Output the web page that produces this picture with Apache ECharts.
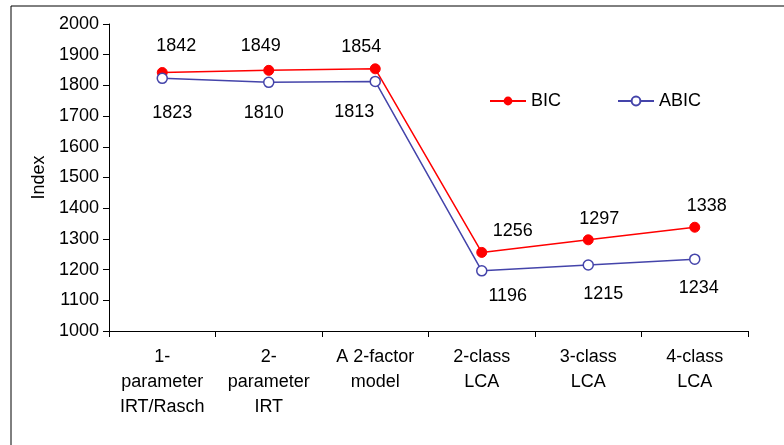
<!DOCTYPE html>
<html>
<head>
<meta charset="utf-8">
<script src="https://cdn.jsdelivr.net/npm/echarts@6/dist/echarts.min.js"></script>
<style>
  html, body { margin: 0; padding: 0; background: #fff; }
  #chart { width: 784px; height: 445px; }
</style>
</head>
<body>
<div id="chart"></div>
<script>
// categories on the x axis
var categories = ['1-\nparameter\nIRT/Rasch', '2-\nparameter\nIRT', 'A 2-factor\nmodel', '2-class\nLCA', '3-class\nLCA', '4-class\nLCA'];
// series values
var bicValues = [1842, 1849, 1854, 1256, 1297, 1338];
var abicValues = [1823, 1810, 1813, 1196, 1215, 1234];

// label nudges (px) so the numbers sit where they are in the original
var bicShift = [[14, -26], [-8, -24], [-14, -22], [31, -21], [11, -21], [12, -21]];
var abicShift = [[10, 35], [-5, 31], [-21, 31], [26, 25], [15, 29], [4, 29]];

var font = 'Liberation Sans, Arial, sans-serif';

function withLabels(values, shift) {
    var out = [];
    for (var i = 0; i < values.length; i++) {
        out.push({ value: values[i], label: { offset: shift[i] } });
    }
    return out;
}

var myChart = echarts.init(document.getElementById('chart'));
var option = {
    backgroundColor: '#fff',
    animation: false,
    textStyle: { fontFamily: font },
    graphic: [{
        type: 'rect',
        shape: { x: 11, y: 6, width: 800, height: 460 },
        style: { fill: 'none', stroke: '#000', lineWidth: 1 },
        silent: true
    }],
    grid: { left: 109, top: 24, right: 36, bottom: 114 },
    legend: {
        left: 484,
        top: 87,
        itemWidth: 36,
        itemHeight: 11,
        itemGap: 56,
        textStyle: { fontSize: 18, color: '#000', fontFamily: font },
        data: ['BIC', 'ABIC']
    },
    xAxis: {
        type: 'category',
        data: categories,
        boundaryGap: true,
        axisLine: { lineStyle: { color: '#000', width: 1 } },
        axisTick: { show: true, length: 6, alignWithLabel: false, lineStyle: { color: '#000' } },
        axisLabel: { color: '#000', fontSize: 18, lineHeight: 25, margin: 14, interval: 0, fontFamily: font }
    },
    yAxis: {
        type: 'value',
        name: 'Index',
        nameLocation: 'middle',
        nameGap: 58,
        nameTextStyle: { fontSize: 18, color: '#000', fontFamily: font },
        min: 1000,
        max: 2000,
        interval: 100,
        axisLine: { show: true, lineStyle: { color: '#000', width: 1 } },
        axisTick: { show: true, length: 6, lineStyle: { color: '#000' } },
        splitLine: { show: false },
        axisLabel: {
            color: '#000', fontSize: 18, margin: 10, fontFamily: font,
            formatter: function (v) { return String(v); }
        }
    },
    series: [{
        name: 'BIC',
        type: 'line',
        data: withLabels(bicValues, bicShift),
        symbol: 'circle',
        symbolSize: 10,
        lineStyle: { color: '#ff0000', width: 1.5 },
        itemStyle: { color: '#ff0000', borderColor: '#ff0000' },
        label: { show: true, position: 'inside', color: '#000', fontSize: 18, fontFamily: font }
    }, {
        name: 'ABIC',
        type: 'line',
        data: withLabels(abicValues, abicShift),
        symbol: 'circle',
        symbolSize: 10,
        lineStyle: { color: '#4444aa', width: 1.5 },
        itemStyle: { color: '#fff', borderColor: '#4444aa', borderWidth: 1.5 },
        label: { show: true, position: 'inside', color: '#000', fontSize: 18, fontFamily: font }
    }]
};
myChart.setOption(option);
</script>
</body>
</html>
